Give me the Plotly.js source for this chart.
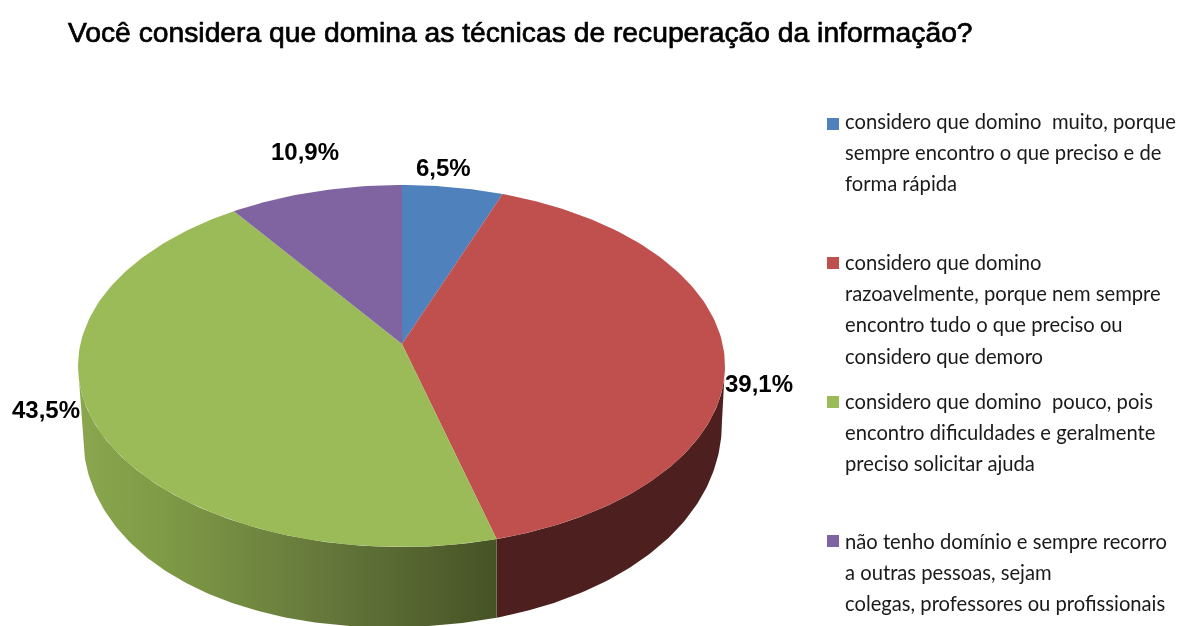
<!DOCTYPE html>
<html><head><meta charset="utf-8">
<script src="https://cdn.plot.ly/plotly-3.0.1.min.js"></script>
<style>html,body{margin:0;padding:0;background:#fff}#c{width:1180px;height:626px;filter:blur(0.45px)}
.gtitle{stroke:#000;stroke-width:0.7px}</style></head>
<body><div id="c"></div>
<script>
const titleText = 'Você considera que domina as técnicas de recuperação da informação?';
const categories = ['muito','razoavelmente','pouco','nenhum'];
const values = [6.5, 39.1, 43.5, 10.9];
const topColors = ['#4f81bd','#c0504d','#9bbb59','#8064a2'];
const labelX = [443, 759, 46, 305];
const labelY = [167, 383, 409, 151];
const legendLines = [
  ['considero que domino  muito, porque','sempre encontro o que preciso e de','forma rápida'],
  ['considero que domino','razoavelmente, porque nem sempre','encontro tudo o que preciso ou','considero que demoro'],
  ['considero que domino  pouco, pois','encontro dificuldades e geralmente','preciso solicitar ajuda'],
  ['não tenho domínio e sempre recorro','a outras pessoas, sejam','colegas, professores ou profissionais']
];
const legendLineY = [[121,152,183],[262,293,324,356],[401,432,463],[541,572,603]];
const swatchY = [124,263,402,541];

// projection of the tilted disc
const A = {x:402,y:344}, C = {x:401.5,y:366,rx:323.5,ry:181};
const L = {x:402.5,y:427,rx:319.5,ry:200,s:0.02,n:2.1};
function rim(deg){
  const th = deg*Math.PI/180, k = Math.cos(th)>=0 ? 1.55 : 1.71;
  const dx = k*Math.sin(th)/C.rx, dy = -Math.cos(th)/C.ry;
  const px = (A.x-C.x)/C.rx, py = (A.y-C.y)/C.ry;
  const a = dx*dx+dy*dy, b = 2*(px*dx+py*dy), c = px*px+py*py-1;
  const t = (-b+Math.sqrt(b*b-4*a*c))/(2*a);
  return [A.x+t*dx*C.rx, A.y+t*dy*C.ry];
}
const topPt = t => [C.x+C.rx*Math.sin(t), C.y-C.ry*Math.cos(t)];
const sgnPow = v => Math.sign(v)*Math.pow(Math.abs(v),2/L.n);
const lowPt = u => [L.x+L.rx*sgnPow(Math.sin(u)), L.y-L.ry*sgnPow(Math.cos(u))-L.s*L.rx*sgnPow(Math.sin(u))];
function range(a,b,n){const r=[];for(let i=0;i<=n;i++)r.push(a+(b-a)*i/n);return r;}

const traces = [];
function poly(pts, extra){
  traces.push(Object.assign({type:'scatter',mode:'lines',x:pts.map(p=>p[0]),y:pts.map(p=>p[1]),
    fill:'toself',line:{width:0},hoverinfo:'skip',showlegend:false},extra));
}
const total = values.reduce((a,b)=>a+b,0);
let acc = 0; const edges = [0];
values.forEach(v=>{acc+=v;edges.push(acc/total*360);});

// walls
const seam = rim(edges[2]);
const tS = Math.PI-Math.asin((seam[0]-C.x)/C.rx);
const uS = Math.PI-Math.asin(Math.sign(seam[0]-L.x)*Math.pow(Math.abs(seam[0]-L.x)/L.rx,L.n/2));
const P = Math.PI;
poly(range(P/2,tS,80).map(topPt).concat(range(uS,P/2,80).map(lowPt)),{fillcolor:'#4d1f1e'});
poly(range(tS,1.5*P,120).map(topPt).concat(range(1.5*P,uS,120).map(lowPt)),
  {fillcolor:'#7f9b46',fillgradient:{type:'horizontal',colorscale:[[0,'#8aa64e'],[0.2,'#7f9b46'],[0.61,'#64763a'],[1,'#465326']]}});
// top faces
values.forEach((v,i)=>{
  const n = Math.max(4,Math.round(edges[i+1]-edges[i]));
  poly([[A.x,A.y]].concat(range(edges[i],edges[i+1],n).map(rim)),{fillcolor:topColors[i],name:categories[i]});
});
// legend swatches
traces.push({type:'scatter',mode:'markers',x:swatchY.map(()=>833),y:swatchY,
  marker:{symbol:'square',size:12,color:topColors,line:{width:0}},hoverinfo:'skip',showlegend:false});

const annotations = [];
values.forEach((v,i)=>annotations.push({x:labelX[i],y:labelY[i],xref:'x',yref:'y',showarrow:false,xanchor:'center',yanchor:'middle',
  text:v.toFixed(1).replace('.',',')+'%',font:{family:'Liberation Sans',size:24,color:'#000',weight:700}}));
legendLines.forEach((ls,i)=>ls.forEach((s,j)=>annotations.push({x:843,y:legendLineY[i][j],xref:'x',yref:'y',showarrow:false,xanchor:'left',yanchor:'middle',
  text:s.replace(/  /g,'\u00a0 '),font:{family:'Lato',size:20.2,color:'#1a1a1a'}})));

Plotly.newPlot('c',traces,{
  width:1180,height:626,margin:{l:0,r:0,t:0,b:0},paper_bgcolor:'#fff',plot_bgcolor:'#fff',showlegend:false,
  title:{text:titleText,x:68/1180,xanchor:'left',y:1-32/626,yanchor:'middle',font:{family:'Liberation Sans',size:28.25,color:'#000',weight:400}},
  xaxis:{range:[0,1180],visible:false,fixedrange:true},
  yaxis:{range:[626,0],visible:false,fixedrange:true},
  annotations
},{displayModeBar:false,staticPlot:true});
</script></body></html>
